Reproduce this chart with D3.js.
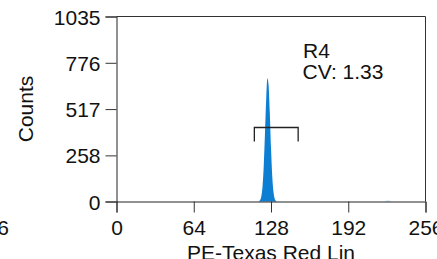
<!DOCTYPE html>
<html>
<head>
<meta charset="utf-8">
<script src="https://cdn.jsdelivr.net/npm/d3@7"></script>
<style>
  body { margin: 0; background: #fff; }
  svg text { font-family: "Liberation Sans", Arial, sans-serif; fill: #111; }
</style>
</head>
<body>
<script>
// histogram channels (PE-Texas Red Lin) and counts
const channels = [117, 118, 119, 120, 121, 122, 123, 124, 125, 126, 127, 128, 129, 130, 131, 132, 133];
const counts   = [0, 2, 8, 29, 85, 203, 380, 571, 690, 650, 499, 302, 146, 57, 17, 4, 0];
// small blip far right
const blipChannels = [222, 223, 224, 225, 226, 227, 228];
const blipCounts   = [0, 3, 4, 5, 4, 3, 0];

const xTicks = [0, 64, 128, 192, 256];
const yTicks = [0, 258, 517, 776, 1035];

// gate R4
const gateRange = [114.2, 150.5];
const gateLevel = 414;
const gateLeg = 335;
const gateName = "R4";
const gateCV = "CV: 1.33";

const W = 437, H = 259;
const margin = {top: 16.5, right: 11.5, bottom: 57.5, left: 116.5};

const svg = d3.select("body").append("svg")
  .attr("width", W).attr("height", H);

const x = d3.scaleLinear().domain([0, 256]).range([margin.left, W - margin.right]);
const y = d3.scaleLinear().domain([0, 1035]).range([H - margin.bottom, margin.top]);

// fill of the histogram
const area = d3.area()
  .x(d => x(d[0]))
  .y0(y(0))
  .y1(d => y(d[1]))
  .curve(d3.curveMonotoneX);

svg.append("path")
  .datum(channels.map((c, i) => [c, counts[i]]))
  .attr("d", area)
  .attr("fill", "#0c7fd3");

svg.append("path")
  .datum(blipChannels.map((c, i) => [c, blipCounts[i]]))
  .attr("d", area)
  .attr("fill", "#0c7fd3")
  .attr("opacity", 0.3);

// frame (top and right)
svg.append("path")
  .attr("d", `M${x(0)},${y(1035)}H${x(256)}V${y(0)}`)
  .attr("fill", "none")
  .attr("stroke", "#333");

// axes
const xAxis = svg.append("g")
  .attr("transform", `translate(0,${y(0)})`)
  .call(d3.axisBottom(x).tickValues(xTicks).tickFormat(d3.format("d")).tickSize(11).tickPadding(8));

const yAxis = svg.append("g")
  .attr("transform", `translate(${x(0)},0)`)
  .call(d3.axisLeft(y).tickValues(yTicks).tickFormat(d3.format("d")).tickSize(11).tickPadding(5));

[xAxis, yAxis].forEach(function(g) {
  g.select(".domain").attr("stroke", "#222");
  g.selectAll(".tick line").attr("stroke", "#333");
  g.selectAll(".tick text")
    .attr("font-size", 21)
    .attr("font-family", "Liberation Sans, Arial, sans-serif")
    .attr("fill", "#111");
});
yAxis.selectAll(".tick text").attr("dy", "0.36em");

// gate bracket
svg.append("path")
  .attr("d", `M${x(gateRange[0])},${y(gateLeg)}V${y(gateLevel)}H${x(gateRange[1])}V${y(gateLeg)}`)
  .attr("fill", "none")
  .attr("stroke", "#222")
  .attr("stroke-width", 1.3);

svg.append("text")
  .attr("x", 303).attr("y", 58)
  .attr("font-size", 21)
  .text(gateName);

svg.append("text")
  .attr("x", 302.5).attr("y", 79)
  .attr("font-size", 21)
  .text(gateCV);

// axis titles
svg.append("text")
  .attr("x", (x(0) + x(256)) / 2).attr("y", 260)
  .attr("text-anchor", "middle")
  .attr("font-size", 21)
  .text("PE-Texas Red Lin");

svg.append("text")
  .attr("transform", `translate(33,109) rotate(-90)`)
  .attr("text-anchor", "middle")
  .attr("font-size", 21)
  .text("Counts");

// cut-off label from neighbouring panel
svg.append("text")
  .attr("x", 9).attr("y", 235)
  .attr("text-anchor", "end")
  .attr("font-size", 21)
  .text("256");
</script>
</body>
</html>
